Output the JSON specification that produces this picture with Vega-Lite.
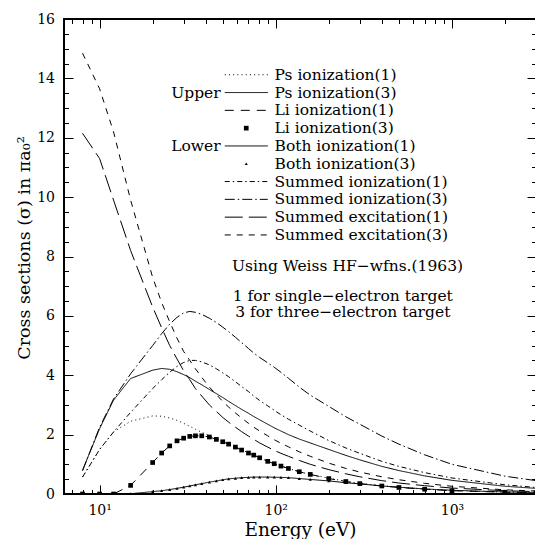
{
"$schema": "https://vega.github.io/schema/vega-lite/v6.json",
"width": 472, "height": 475,
"autosize": {"type": "none"},
"padding": {"left": 64, "top": 19, "right": 0, "bottom": 45},
"background": "white",
"config": {
  "view": {"stroke": "black", "strokeWidth": 2},
  "axis": {"grid": false, "domain": false, "zindex": 1, "tickColor": "black", "tickWidth": 1, "labelColor": "black", "titleColor": "black", "labelFont": "DejaVu Serif", "titleFont": "DejaVu Serif", "titleFontWeight": "normal", "labelFontSize": 14, "titleFontSize": 18.5, "labelFlush": false, "labelOverlap": false}
},
"datasets": {"curves": [
{"energy":8,"series":"Ps ionization(1)","sigma":0.57},{"energy":10,"series":"Ps ionization(1)","sigma":1.5},{"energy":12,"series":"Ps ionization(1)","sigma":2.09},{"energy":15,"series":"Ps ionization(1)","sigma":2.45},{"energy":20,"series":"Ps ionization(1)","sigma":2.63},{"energy":22.5,"series":"Ps ionization(1)","sigma":2.62},{"energy":25,"series":"Ps ionization(1)","sigma":2.56},{"energy":27.5,"series":"Ps ionization(1)","sigma":2.48},{"energy":30,"series":"Ps ionization(1)","sigma":2.38},{"energy":32.5,"series":"Ps ionization(1)","sigma":2.28},{"energy":35,"series":"Ps ionization(1)","sigma":2.18},{"energy":38,"series":"Ps ionization(1)","sigma":2.08},{"energy":42,"series":"Ps ionization(1)","sigma":1.97},{"energy":46,"series":"Ps ionization(1)","sigma":1.86},{"energy":50,"series":"Ps ionization(1)","sigma":1.77},{"energy":54,"series":"Ps ionization(1)","sigma":1.69},{"energy":59,"series":"Ps ionization(1)","sigma":1.59},{"energy":64,"series":"Ps ionization(1)","sigma":1.49},{"energy":70,"series":"Ps ionization(1)","sigma":1.39},{"energy":75,"series":"Ps ionization(1)","sigma":1.31},{"energy":81,"series":"Ps ionization(1)","sigma":1.22},{"energy":90,"series":"Ps ionization(1)","sigma":1.1},{"energy":98,"series":"Ps ionization(1)","sigma":1.02},{"energy":107,"series":"Ps ionization(1)","sigma":0.94},{"energy":118,"series":"Ps ionization(1)","sigma":0.86},{"energy":136,"series":"Ps ionization(1)","sigma":0.75},{"energy":157,"series":"Ps ionization(1)","sigma":0.66},{"energy":200,"series":"Ps ionization(1)","sigma":0.53},{"energy":250,"series":"Ps ionization(1)","sigma":0.43},{"energy":300,"series":"Ps ionization(1)","sigma":0.36},{"energy":400,"series":"Ps ionization(1)","sigma":0.28},{"energy":500,"series":"Ps ionization(1)","sigma":0.23},{"energy":700,"series":"Ps ionization(1)","sigma":0.17},{"energy":1000,"series":"Ps ionization(1)","sigma":0.12},{"energy":2000,"series":"Ps ionization(1)","sigma":0.065},{"energy":3000,"series":"Ps ionization(1)","sigma":0.045},
{"energy":8,"series":"Ps ionization(3)","sigma":0.8},{"energy":10,"series":"Ps ionization(3)","sigma":2.2},{"energy":12,"series":"Ps ionization(3)","sigma":3.16},{"energy":15,"series":"Ps ionization(3)","sigma":3.89},{"energy":20,"series":"Ps ionization(3)","sigma":4.17},{"energy":22.5,"series":"Ps ionization(3)","sigma":4.23},{"energy":25,"series":"Ps ionization(3)","sigma":4.2},{"energy":27.5,"series":"Ps ionization(3)","sigma":4.12},{"energy":30,"series":"Ps ionization(3)","sigma":4.02},{"energy":32.5,"series":"Ps ionization(3)","sigma":3.92},{"energy":35,"series":"Ps ionization(3)","sigma":3.8},{"energy":38,"series":"Ps ionization(3)","sigma":3.68},{"energy":42,"series":"Ps ionization(3)","sigma":3.52},{"energy":46,"series":"Ps ionization(3)","sigma":3.38},{"energy":50,"series":"Ps ionization(3)","sigma":3.25},{"energy":54,"series":"Ps ionization(3)","sigma":3.12},{"energy":59,"series":"Ps ionization(3)","sigma":2.98},{"energy":64,"series":"Ps ionization(3)","sigma":2.85},{"energy":70,"series":"Ps ionization(3)","sigma":2.72},{"energy":75,"series":"Ps ionization(3)","sigma":2.61},{"energy":81,"series":"Ps ionization(3)","sigma":2.5},{"energy":90,"series":"Ps ionization(3)","sigma":2.35},{"energy":98,"series":"Ps ionization(3)","sigma":2.23},{"energy":107,"series":"Ps ionization(3)","sigma":2.12},{"energy":118,"series":"Ps ionization(3)","sigma":2.0},{"energy":136,"series":"Ps ionization(3)","sigma":1.85},{"energy":157,"series":"Ps ionization(3)","sigma":1.72},{"energy":200,"series":"Ps ionization(3)","sigma":1.5},{"energy":250,"series":"Ps ionization(3)","sigma":1.3},{"energy":300,"series":"Ps ionization(3)","sigma":1.15},{"energy":400,"series":"Ps ionization(3)","sigma":0.93},{"energy":500,"series":"Ps ionization(3)","sigma":0.79},{"energy":700,"series":"Ps ionization(3)","sigma":0.61},{"energy":1000,"series":"Ps ionization(3)","sigma":0.46},{"energy":2000,"series":"Ps ionization(3)","sigma":0.26},{"energy":3000,"series":"Ps ionization(3)","sigma":0.19},
{"energy":8,"series":"Li ionization(1)","sigma":0},{"energy":10,"series":"Li ionization(1)","sigma":0},{"energy":12,"series":"Li ionization(1)","sigma":0},{"energy":15,"series":"Li ionization(1)","sigma":0.29},{"energy":20,"series":"Li ionization(1)","sigma":1.06},{"energy":22.5,"series":"Li ionization(1)","sigma":1.38},{"energy":25,"series":"Li ionization(1)","sigma":1.62},{"energy":27.5,"series":"Li ionization(1)","sigma":1.79},{"energy":30,"series":"Li ionization(1)","sigma":1.88},{"energy":32.5,"series":"Li ionization(1)","sigma":1.94},{"energy":35,"series":"Li ionization(1)","sigma":1.96},{"energy":38,"series":"Li ionization(1)","sigma":1.96},{"energy":42,"series":"Li ionization(1)","sigma":1.92},{"energy":46,"series":"Li ionization(1)","sigma":1.84},{"energy":50,"series":"Li ionization(1)","sigma":1.76},{"energy":54,"series":"Li ionization(1)","sigma":1.68},{"energy":59,"series":"Li ionization(1)","sigma":1.58},{"energy":64,"series":"Li ionization(1)","sigma":1.48},{"energy":70,"series":"Li ionization(1)","sigma":1.38},{"energy":75,"series":"Li ionization(1)","sigma":1.31},{"energy":81,"series":"Li ionization(1)","sigma":1.22},{"energy":90,"series":"Li ionization(1)","sigma":1.1},{"energy":98,"series":"Li ionization(1)","sigma":1.02},{"energy":107,"series":"Li ionization(1)","sigma":0.94},{"energy":118,"series":"Li ionization(1)","sigma":0.86},{"energy":136,"series":"Li ionization(1)","sigma":0.75},{"energy":157,"series":"Li ionization(1)","sigma":0.66},{"energy":200,"series":"Li ionization(1)","sigma":0.52},{"energy":250,"series":"Li ionization(1)","sigma":0.42},{"energy":300,"series":"Li ionization(1)","sigma":0.35},{"energy":400,"series":"Li ionization(1)","sigma":0.27},{"energy":500,"series":"Li ionization(1)","sigma":0.22},{"energy":700,"series":"Li ionization(1)","sigma":0.16},{"energy":1000,"series":"Li ionization(1)","sigma":0.11},{"energy":2000,"series":"Li ionization(1)","sigma":0.06},{"energy":3000,"series":"Li ionization(1)","sigma":0.045},
{"energy":8,"series":"Li ionization(3)","sigma":0},{"energy":10,"series":"Li ionization(3)","sigma":0},{"energy":12,"series":"Li ionization(3)","sigma":0},{"energy":15,"series":"Li ionization(3)","sigma":0.29},{"energy":20,"series":"Li ionization(3)","sigma":1.06},{"energy":22.5,"series":"Li ionization(3)","sigma":1.38},{"energy":25,"series":"Li ionization(3)","sigma":1.62},{"energy":27.5,"series":"Li ionization(3)","sigma":1.79},{"energy":30,"series":"Li ionization(3)","sigma":1.88},{"energy":32.5,"series":"Li ionization(3)","sigma":1.94},{"energy":35,"series":"Li ionization(3)","sigma":1.96},{"energy":38,"series":"Li ionization(3)","sigma":1.96},{"energy":42,"series":"Li ionization(3)","sigma":1.92},{"energy":46,"series":"Li ionization(3)","sigma":1.84},{"energy":50,"series":"Li ionization(3)","sigma":1.76},{"energy":54,"series":"Li ionization(3)","sigma":1.68},{"energy":59,"series":"Li ionization(3)","sigma":1.58},{"energy":64,"series":"Li ionization(3)","sigma":1.48},{"energy":70,"series":"Li ionization(3)","sigma":1.38},{"energy":75,"series":"Li ionization(3)","sigma":1.31},{"energy":81,"series":"Li ionization(3)","sigma":1.22},{"energy":90,"series":"Li ionization(3)","sigma":1.1},{"energy":98,"series":"Li ionization(3)","sigma":1.02},{"energy":107,"series":"Li ionization(3)","sigma":0.94},{"energy":118,"series":"Li ionization(3)","sigma":0.86},{"energy":136,"series":"Li ionization(3)","sigma":0.75},{"energy":157,"series":"Li ionization(3)","sigma":0.66},{"energy":200,"series":"Li ionization(3)","sigma":0.52},{"energy":250,"series":"Li ionization(3)","sigma":0.42},{"energy":300,"series":"Li ionization(3)","sigma":0.35},{"energy":400,"series":"Li ionization(3)","sigma":0.27},{"energy":500,"series":"Li ionization(3)","sigma":0.22},{"energy":700,"series":"Li ionization(3)","sigma":0.16},{"energy":1000,"series":"Li ionization(3)","sigma":0.11},{"energy":2000,"series":"Li ionization(3)","sigma":0.06},{"energy":3000,"series":"Li ionization(3)","sigma":0.045},
{"energy":8,"series":"Both ionization(1)","sigma":0},{"energy":10,"series":"Both ionization(1)","sigma":0},{"energy":12,"series":"Both ionization(1)","sigma":0},{"energy":15,"series":"Both ionization(1)","sigma":0.01},{"energy":20,"series":"Both ionization(1)","sigma":0.08},{"energy":22.5,"series":"Both ionization(1)","sigma":0.11},{"energy":25,"series":"Both ionization(1)","sigma":0.15},{"energy":27.5,"series":"Both ionization(1)","sigma":0.19},{"energy":30,"series":"Both ionization(1)","sigma":0.23},{"energy":32.5,"series":"Both ionization(1)","sigma":0.27},{"energy":35,"series":"Both ionization(1)","sigma":0.31},{"energy":38,"series":"Both ionization(1)","sigma":0.35},{"energy":42,"series":"Both ionization(1)","sigma":0.4},{"energy":46,"series":"Both ionization(1)","sigma":0.44},{"energy":50,"series":"Both ionization(1)","sigma":0.48},{"energy":54,"series":"Both ionization(1)","sigma":0.51},{"energy":59,"series":"Both ionization(1)","sigma":0.53},{"energy":64,"series":"Both ionization(1)","sigma":0.55},{"energy":70,"series":"Both ionization(1)","sigma":0.56},{"energy":75,"series":"Both ionization(1)","sigma":0.57},{"energy":81,"series":"Both ionization(1)","sigma":0.57},{"energy":90,"series":"Both ionization(1)","sigma":0.57},{"energy":98,"series":"Both ionization(1)","sigma":0.565},{"energy":107,"series":"Both ionization(1)","sigma":0.56},{"energy":118,"series":"Both ionization(1)","sigma":0.55},{"energy":136,"series":"Both ionization(1)","sigma":0.52},{"energy":157,"series":"Both ionization(1)","sigma":0.49},{"energy":200,"series":"Both ionization(1)","sigma":0.44},{"energy":250,"series":"Both ionization(1)","sigma":0.38},{"energy":300,"series":"Both ionization(1)","sigma":0.34},{"energy":400,"series":"Both ionization(1)","sigma":0.27},{"energy":500,"series":"Both ionization(1)","sigma":0.23},{"energy":700,"series":"Both ionization(1)","sigma":0.17},{"energy":1000,"series":"Both ionization(1)","sigma":0.125},{"energy":2000,"series":"Both ionization(1)","sigma":0.07},{"energy":3000,"series":"Both ionization(1)","sigma":0.05},
{"energy":8,"series":"Both ionization(3)","sigma":0},{"energy":10,"series":"Both ionization(3)","sigma":0},{"energy":12,"series":"Both ionization(3)","sigma":0},{"energy":15,"series":"Both ionization(3)","sigma":0.01},{"energy":20,"series":"Both ionization(3)","sigma":0.08},{"energy":22.5,"series":"Both ionization(3)","sigma":0.11},{"energy":25,"series":"Both ionization(3)","sigma":0.15},{"energy":27.5,"series":"Both ionization(3)","sigma":0.19},{"energy":30,"series":"Both ionization(3)","sigma":0.23},{"energy":32.5,"series":"Both ionization(3)","sigma":0.27},{"energy":35,"series":"Both ionization(3)","sigma":0.31},{"energy":38,"series":"Both ionization(3)","sigma":0.35},{"energy":42,"series":"Both ionization(3)","sigma":0.4},{"energy":46,"series":"Both ionization(3)","sigma":0.44},{"energy":50,"series":"Both ionization(3)","sigma":0.48},{"energy":54,"series":"Both ionization(3)","sigma":0.51},{"energy":59,"series":"Both ionization(3)","sigma":0.53},{"energy":64,"series":"Both ionization(3)","sigma":0.55},{"energy":70,"series":"Both ionization(3)","sigma":0.56},{"energy":75,"series":"Both ionization(3)","sigma":0.57},{"energy":81,"series":"Both ionization(3)","sigma":0.57},{"energy":90,"series":"Both ionization(3)","sigma":0.57},{"energy":98,"series":"Both ionization(3)","sigma":0.565},{"energy":107,"series":"Both ionization(3)","sigma":0.56},{"energy":118,"series":"Both ionization(3)","sigma":0.55},{"energy":136,"series":"Both ionization(3)","sigma":0.52},{"energy":157,"series":"Both ionization(3)","sigma":0.49},{"energy":200,"series":"Both ionization(3)","sigma":0.44},{"energy":250,"series":"Both ionization(3)","sigma":0.38},{"energy":300,"series":"Both ionization(3)","sigma":0.34},{"energy":400,"series":"Both ionization(3)","sigma":0.27},{"energy":500,"series":"Both ionization(3)","sigma":0.23},{"energy":700,"series":"Both ionization(3)","sigma":0.17},{"energy":1000,"series":"Both ionization(3)","sigma":0.125},{"energy":2000,"series":"Both ionization(3)","sigma":0.07},{"energy":3000,"series":"Both ionization(3)","sigma":0.05},
{"energy":8,"series":"Summed ionization(1)","sigma":0.57},{"energy":10,"series":"Summed ionization(1)","sigma":1.5},{"energy":12,"series":"Summed ionization(1)","sigma":2.09},{"energy":15,"series":"Summed ionization(1)","sigma":2.75},{"energy":20,"series":"Summed ionization(1)","sigma":3.55},{"energy":22.5,"series":"Summed ionization(1)","sigma":3.85},{"energy":25,"series":"Summed ionization(1)","sigma":4.1},{"energy":27.5,"series":"Summed ionization(1)","sigma":4.3},{"energy":30,"series":"Summed ionization(1)","sigma":4.43},{"energy":32.5,"series":"Summed ionization(1)","sigma":4.5},{"energy":35,"series":"Summed ionization(1)","sigma":4.5},{"energy":38,"series":"Summed ionization(1)","sigma":4.45},{"energy":42,"series":"Summed ionization(1)","sigma":4.35},{"energy":46,"series":"Summed ionization(1)","sigma":4.22},{"energy":50,"series":"Summed ionization(1)","sigma":4.08},{"energy":54,"series":"Summed ionization(1)","sigma":3.95},{"energy":59,"series":"Summed ionization(1)","sigma":3.78},{"energy":64,"series":"Summed ionization(1)","sigma":3.62},{"energy":70,"series":"Summed ionization(1)","sigma":3.45},{"energy":75,"series":"Summed ionization(1)","sigma":3.3},{"energy":81,"series":"Summed ionization(1)","sigma":3.15},{"energy":90,"series":"Summed ionization(1)","sigma":2.97},{"energy":98,"series":"Summed ionization(1)","sigma":2.82},{"energy":107,"series":"Summed ionization(1)","sigma":2.67},{"energy":118,"series":"Summed ionization(1)","sigma":2.52},{"energy":136,"series":"Summed ionization(1)","sigma":2.32},{"energy":157,"series":"Summed ionization(1)","sigma":2.12},{"energy":200,"series":"Summed ionization(1)","sigma":1.8},{"energy":250,"series":"Summed ionization(1)","sigma":1.55},{"energy":300,"series":"Summed ionization(1)","sigma":1.37},{"energy":400,"series":"Summed ionization(1)","sigma":1.1},{"energy":500,"series":"Summed ionization(1)","sigma":0.93},{"energy":700,"series":"Summed ionization(1)","sigma":0.72},{"energy":1000,"series":"Summed ionization(1)","sigma":0.54},{"energy":2000,"series":"Summed ionization(1)","sigma":0.31},{"energy":3000,"series":"Summed ionization(1)","sigma":0.22},
{"energy":8,"series":"Summed ionization(3)","sigma":0.78},{"energy":10,"series":"Summed ionization(3)","sigma":2.25},{"energy":12,"series":"Summed ionization(3)","sigma":3.2},{"energy":15,"series":"Summed ionization(3)","sigma":4.05},{"energy":20,"series":"Summed ionization(3)","sigma":5.0},{"energy":22.5,"series":"Summed ionization(3)","sigma":5.4},{"energy":25,"series":"Summed ionization(3)","sigma":5.72},{"energy":27.5,"series":"Summed ionization(3)","sigma":5.95},{"energy":30,"series":"Summed ionization(3)","sigma":6.1},{"energy":32.5,"series":"Summed ionization(3)","sigma":6.15},{"energy":35,"series":"Summed ionization(3)","sigma":6.12},{"energy":38,"series":"Summed ionization(3)","sigma":6.05},{"energy":42,"series":"Summed ionization(3)","sigma":5.92},{"energy":46,"series":"Summed ionization(3)","sigma":5.78},{"energy":50,"series":"Summed ionization(3)","sigma":5.62},{"energy":54,"series":"Summed ionization(3)","sigma":5.47},{"energy":59,"series":"Summed ionization(3)","sigma":5.28},{"energy":64,"series":"Summed ionization(3)","sigma":5.1},{"energy":70,"series":"Summed ionization(3)","sigma":4.9},{"energy":75,"series":"Summed ionization(3)","sigma":4.75},{"energy":81,"series":"Summed ionization(3)","sigma":4.6},{"energy":90,"series":"Summed ionization(3)","sigma":4.42},{"energy":98,"series":"Summed ionization(3)","sigma":4.27},{"energy":107,"series":"Summed ionization(3)","sigma":4.1},{"energy":118,"series":"Summed ionization(3)","sigma":3.9},{"energy":136,"series":"Summed ionization(3)","sigma":3.6},{"energy":157,"series":"Summed ionization(3)","sigma":3.33},{"energy":200,"series":"Summed ionization(3)","sigma":2.95},{"energy":250,"series":"Summed ionization(3)","sigma":2.6},{"energy":300,"series":"Summed ionization(3)","sigma":2.35},{"energy":400,"series":"Summed ionization(3)","sigma":1.95},{"energy":500,"series":"Summed ionization(3)","sigma":1.68},{"energy":700,"series":"Summed ionization(3)","sigma":1.32},{"energy":1000,"series":"Summed ionization(3)","sigma":1.0},{"energy":2000,"series":"Summed ionization(3)","sigma":0.6},{"energy":3000,"series":"Summed ionization(3)","sigma":0.45},
{"energy":8,"series":"Summed excitation(1)","sigma":12.15},{"energy":10,"series":"Summed excitation(1)","sigma":11.3},{"energy":12,"series":"Summed excitation(1)","sigma":9.9},{"energy":15,"series":"Summed excitation(1)","sigma":8.2},{"energy":20,"series":"Summed excitation(1)","sigma":6.3},{"energy":22.5,"series":"Summed excitation(1)","sigma":5.6},{"energy":25,"series":"Summed excitation(1)","sigma":5.0},{"energy":27.5,"series":"Summed excitation(1)","sigma":4.55},{"energy":30,"series":"Summed excitation(1)","sigma":4.15},{"energy":32.5,"series":"Summed excitation(1)","sigma":3.85},{"energy":35,"series":"Summed excitation(1)","sigma":3.55},{"energy":38,"series":"Summed excitation(1)","sigma":3.3},{"energy":42,"series":"Summed excitation(1)","sigma":3.0},{"energy":46,"series":"Summed excitation(1)","sigma":2.78},{"energy":50,"series":"Summed excitation(1)","sigma":2.58},{"energy":54,"series":"Summed excitation(1)","sigma":2.42},{"energy":59,"series":"Summed excitation(1)","sigma":2.25},{"energy":64,"series":"Summed excitation(1)","sigma":2.1},{"energy":70,"series":"Summed excitation(1)","sigma":1.95},{"energy":75,"series":"Summed excitation(1)","sigma":1.84},{"energy":81,"series":"Summed excitation(1)","sigma":1.72},{"energy":90,"series":"Summed excitation(1)","sigma":1.58},{"energy":98,"series":"Summed excitation(1)","sigma":1.47},{"energy":107,"series":"Summed excitation(1)","sigma":1.37},{"energy":118,"series":"Summed excitation(1)","sigma":1.27},{"energy":136,"series":"Summed excitation(1)","sigma":1.13},{"energy":157,"series":"Summed excitation(1)","sigma":1.0},{"energy":200,"series":"Summed excitation(1)","sigma":0.82},{"energy":250,"series":"Summed excitation(1)","sigma":0.68},{"energy":300,"series":"Summed excitation(1)","sigma":0.58},{"energy":400,"series":"Summed excitation(1)","sigma":0.45},{"energy":500,"series":"Summed excitation(1)","sigma":0.37},{"energy":700,"series":"Summed excitation(1)","sigma":0.28},{"energy":1000,"series":"Summed excitation(1)","sigma":0.2},{"energy":2000,"series":"Summed excitation(1)","sigma":0.11},{"energy":3000,"series":"Summed excitation(1)","sigma":0.08},
{"energy":8,"series":"Summed excitation(3)","sigma":14.85},{"energy":10,"series":"Summed excitation(3)","sigma":13.65},{"energy":12,"series":"Summed excitation(3)","sigma":12.2},{"energy":15,"series":"Summed excitation(3)","sigma":9.9},{"energy":20,"series":"Summed excitation(3)","sigma":7.3},{"energy":22.5,"series":"Summed excitation(3)","sigma":6.45},{"energy":25,"series":"Summed excitation(3)","sigma":5.8},{"energy":27.5,"series":"Summed excitation(3)","sigma":5.25},{"energy":30,"series":"Summed excitation(3)","sigma":4.8},{"energy":32.5,"series":"Summed excitation(3)","sigma":4.5},{"energy":35,"series":"Summed excitation(3)","sigma":4.22},{"energy":38,"series":"Summed excitation(3)","sigma":3.93},{"energy":42,"series":"Summed excitation(3)","sigma":3.6},{"energy":46,"series":"Summed excitation(3)","sigma":3.35},{"energy":50,"series":"Summed excitation(3)","sigma":3.12},{"energy":54,"series":"Summed excitation(3)","sigma":2.93},{"energy":59,"series":"Summed excitation(3)","sigma":2.73},{"energy":64,"series":"Summed excitation(3)","sigma":2.56},{"energy":70,"series":"Summed excitation(3)","sigma":2.38},{"energy":75,"series":"Summed excitation(3)","sigma":2.25},{"energy":81,"series":"Summed excitation(3)","sigma":2.12},{"energy":90,"series":"Summed excitation(3)","sigma":1.96},{"energy":98,"series":"Summed excitation(3)","sigma":1.83},{"energy":107,"series":"Summed excitation(3)","sigma":1.71},{"energy":118,"series":"Summed excitation(3)","sigma":1.59},{"energy":136,"series":"Summed excitation(3)","sigma":1.42},{"energy":157,"series":"Summed excitation(3)","sigma":1.27},{"energy":200,"series":"Summed excitation(3)","sigma":1.04},{"energy":250,"series":"Summed excitation(3)","sigma":0.86},{"energy":300,"series":"Summed excitation(3)","sigma":0.74},{"energy":400,"series":"Summed excitation(3)","sigma":0.58},{"energy":500,"series":"Summed excitation(3)","sigma":0.48},{"energy":700,"series":"Summed excitation(3)","sigma":0.36},{"energy":1000,"series":"Summed excitation(3)","sigma":0.26},{"energy":2000,"series":"Summed excitation(3)","sigma":0.14},{"energy":3000,"series":"Summed excitation(3)","sigma":0.1}
]},
"data": {"name": "curves"},
"layer": [
  {
    "transform": [{"filter": "indexof(['Ps ionization(1)','Ps ionization(3)','Li ionization(1)','Both ionization(1)'], datum.series) >= 0"}],
    "mark": {"type": "line", "strokeWidth": 1, "color": "black", "clip": true},
    "encoding": {
      "x": {"field": "energy", "type": "quantitative", "scale": {"type": "log", "domain": [6.28, 3000], "nice": false},
            "axis": {"orient": "bottom", "values": [10, 100, 1000], "labelExpr": "datum.value == 10 ? '10¹' : datum.value == 100 ? '10²' : '10³'", "tickSize": -9, "labelPadding": 18, "title": "Energy (eV)", "titlePadding": 3}},
      "y": {"field": "sigma", "type": "quantitative", "scale": {"domain": [0, 16], "nice": false},
            "axis": {"orient": "left", "values": [0, 2, 4, 6, 8, 10, 12, 14, 16], "tickSize": -9, "labelPadding": 18.5, "title": "Cross sections (σ) in πa₀²", "titleFontSize": 17.5, "titleY": 228.5, "titlePadding": 3}},
      "strokeDash": {"field": "series", "type": "nominal",
        "scale": {"domain": ["Ps ionization(1)", "Ps ionization(3)", "Li ionization(1)", "Li ionization(3)", "Both ionization(1)", "Both ionization(3)", "Summed ionization(1)", "Summed ionization(3)", "Summed excitation(1)", "Summed excitation(3)"],
                  "range": [[1, 3.2], [1, 0], [9, 7], [1, 0], [1, 0], [1, 0], [5, 3, 1.5, 3], [10, 3, 1.5, 3], [18, 6], [6, 6]]},
        "legend": {"orient": "none", "legendX": 174.5, "legendY": 48, "title": null, "padding": 0, "rowPadding": 0.8, "symbolSize": 100, "symbolType": "stroke", "symbolStrokeWidth": 1, "symbolStrokeColor": "black", "labelFont": "DejaVu Serif", "labelFontSize": 15.5, "labelColor": "black", "labelOffset": 20.5, "labelLimit": 400,
          "encode": {"symbols": {"update": {
            "shape": {"signal": "datum.value === 'Li ionization(3)' ? 'square' : datum.value === 'Both ionization(3)' ? 'triangle-up' : 'M-4.3,0H4.3'"},
            "size": {"signal": "datum.value === 'Li ionization(3)' ? 22 : datum.value === 'Both ionization(3)' ? 10 : 100"},
            "fill": {"signal": "datum.value === 'Li ionization(3)' || datum.value === 'Both ionization(3)' ? 'black' : 'transparent'"},
            "stroke": {"value": "black"},
            "opacity": {"value": 1},
            "strokeOpacity": {"value": 1},
            "strokeWidth": {"signal": "datum.value === 'Li ionization(3)' || datum.value === 'Both ionization(3)' ? 0 : 1"}
          }}}}
      }
    }
  },
  {
    "transform": [{"filter": "indexof(['Summed ionization(1)','Summed ionization(3)','Summed excitation(1)','Summed excitation(3)'], datum.series) >= 0"}],
    "mark": {"type": "line", "strokeWidth": 1, "color": "black", "clip": true},
    "encoding": {
      "x": {"field": "energy", "type": "quantitative",
            "axis": {"orient": "bottom", "values": [7, 8, 9, 20, 30, 40, 50, 60, 70, 80, 90, 200, 300, 400, 500, 600, 700, 800, 900, 2000, 3000], "tickSize": -4.5, "labels": false, "title": null}},
      "y": {"field": "sigma", "type": "quantitative",
            "axis": {"orient": "left", "values": [0.5, 1, 1.5, 2.5, 3, 3.5, 4.5, 5, 5.5, 6.5, 7, 7.5, 8.5, 9, 9.5, 10.5, 11, 11.5, 12.5, 13, 13.5, 14.5, 15, 15.5], "tickSize": -4.5, "labels": false, "title": null}},
      "strokeDash": {"field": "series", "type": "nominal"}
    }
  },
  {
    "transform": [{"filter": "datum.series === 'Li ionization(3)'"}],
    "mark": {"type": "point", "shape": "square", "filled": true, "size": 22, "color": "black", "opacity": 1, "clip": true},
    "encoding": {
      "x": {"field": "energy", "type": "quantitative",
            "axis": {"orient": "top", "values": [10, 100, 1000], "tickSize": -9, "labels": false, "title": null}},
      "y": {"field": "sigma", "type": "quantitative",
            "axis": {"orient": "right", "values": [0, 2, 4, 6, 8, 10, 12, 14, 16], "tickSize": -9, "labels": false, "title": null}}
    }
  },
  {
    "transform": [{"filter": "datum.series === 'Both ionization(3)'"}],
    "mark": {"type": "point", "shape": "triangle-up", "filled": true, "size": 10, "color": "black", "opacity": 1, "clip": true},
    "encoding": {
      "x": {"field": "energy", "type": "quantitative",
            "axis": {"orient": "top", "values": [7, 8, 9, 20, 30, 40, 50, 60, 70, 80, 90, 200, 300, 400, 500, 600, 700, 800, 900, 2000, 3000], "tickSize": -4.5, "labels": false, "title": null}},
      "y": {"field": "sigma", "type": "quantitative",
            "axis": {"orient": "right", "values": [0.5, 1, 1.5, 2.5, 3, 3.5, 4.5, 5, 5.5, 6.5, 7, 7.5, 8.5, 9, 9.5, 10.5, 11, 11.5, 12.5, 13, 13.5, 14.5, 15, 15.5], "tickSize": -4.5, "labels": false, "title": null}}
    }
  },
  {
    "data": {"values": [{}]},
    "mark": {"type": "text", "text": "Upper", "align": "left", "baseline": "middle", "font": "DejaVu Serif", "fontSize": 15.5, "color": "black"},
    "encoding": {"x": {"datum": 25.5, "type": "quantitative", "axis": null}, "y": {"datum": 13.52, "type": "quantitative", "axis": null}}
  },
  {
    "data": {"values": [{}]},
    "mark": {"type": "text", "text": "Lower", "align": "left", "baseline": "middle", "font": "DejaVu Serif", "fontSize": 15.5, "color": "black"},
    "encoding": {"x": {"datum": 25.5, "type": "quantitative", "axis": null}, "y": {"datum": 11.73, "type": "quantitative", "axis": null}}
  },
  {
    "data": {"values": [{}]},
    "mark": {"type": "text", "text": "Using Weiss HF−wfns.(1963)", "align": "left", "baseline": "middle", "font": "DejaVu Serif", "fontSize": 15.5, "color": "black"},
    "encoding": {"x": {"datum": 56.4, "type": "quantitative", "axis": null}, "y": {"datum": 7.67, "type": "quantitative", "axis": null}}
  },
  {
    "data": {"values": [{}]},
    "mark": {"type": "text", "text": ["1 for single−electron target", "3 for three−electron target"], "lineHeight": 15.5, "align": "center", "baseline": "middle", "font": "DejaVu Serif", "fontSize": 15.5, "color": "black"},
    "encoding": {"x": {"datum": 240, "type": "quantitative", "axis": null}, "y": {"datum": 6.66, "type": "quantitative", "axis": null}}
  }
],
"resolve": {"scale": {"x": "shared", "y": "shared", "strokeDash": "shared"}, "axis": {"x": "independent", "y": "independent"}}
}
